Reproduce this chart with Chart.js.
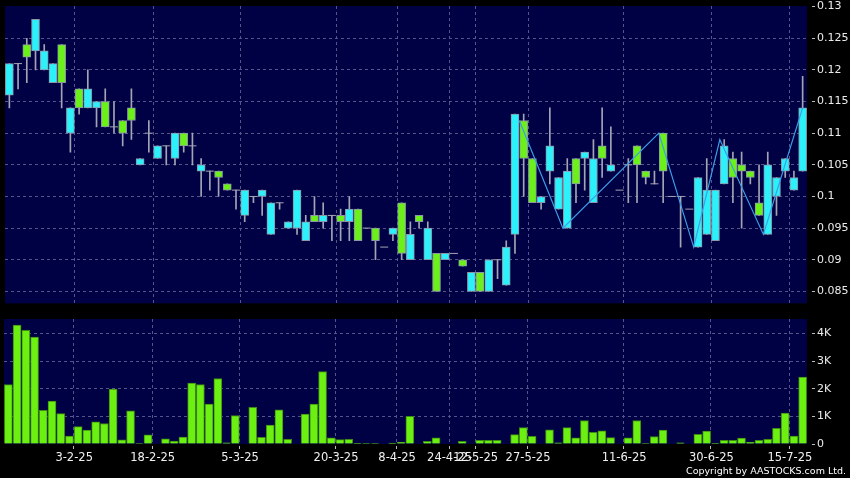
<!DOCTYPE html>
<html>
<head>
<meta charset="utf-8">
<script src="https://cdn.jsdelivr.net/npm/chart.js@4.4.1/dist/chart.umd.min.js"></script>
<style>
  html, body { margin: 0; padding: 0; background: #000; }
  body { width: 850px; height: 478px; position: relative; overflow: hidden; font-family: "DejaVu Sans", sans-serif; }
  #priceChart { position: absolute; left: 0; top: -20px; }
  #volumeChart { position: absolute; left: 0; top: 290px; }
  #copy { position: absolute; right: 4px; top: 465px; color: #fff; font-size: 9.5px; line-height: 11px; }
</style>
</head>
<body>
<canvas id="priceChart" width="850" height="332"></canvas>
<canvas id="volumeChart" width="850" height="188"></canvas>
<div id="copy">Copyright by AASTOCKS.com Ltd.</div>
<script>
// Daily candles, oldest first
const open = [
  0.116, 0.121, 0.124, 0.123, 0.120, 0.118, 0.124, 0.110, 0.117, 0.114,
  0.114, 0.115, 0.111, 0.112, 0.114, 0.105, 0.110, 0.106, 0.108, 0.106,
  0.110, 0.108, 0.104, 0.104, 0.104, 0.102, 0.101, 0.097, 0.100, 0.100,
  0.094, 0.099, 0.095, 0.095, 0.093, 0.097, 0.096, 0.097, 0.097, 0.096,
  0.098, 0.095, 0.095, 0.092, 0.094, 0.099, 0.090, 0.097, 0.090, 0.091,
  0.090, 0.091, 0.090, 0.085, 0.088, 0.085, 0.090, 0.086, 0.094, 0.112,
  0.106, 0.099, 0.104, 0.098, 0.095, 0.106, 0.106, 0.099, 0.108, 0.104,
  0.101, 0.105, 0.108, 0.104, 0.102, 0.110, 0.100, 0.100, 0.098, 0.092,
  0.094, 0.093, 0.102, 0.106, 0.105, 0.104, 0.099, 0.094, 0.100, 0.104,
  0.101, 0.104
];
const high = [
  0.121, 0.121, 0.125, 0.128, 0.124, 0.121, 0.124, 0.114, 0.117, 0.120,
  0.115, 0.117, 0.115, 0.112, 0.117, 0.106, 0.112, 0.108, 0.108, 0.110,
  0.110, 0.110, 0.106, 0.104, 0.104, 0.102, 0.101, 0.101, 0.100, 0.101,
  0.099, 0.099, 0.096, 0.101, 0.097, 0.100, 0.099, 0.097, 0.098, 0.100,
  0.098, 0.095, 0.095, 0.092, 0.095, 0.099, 0.096, 0.097, 0.096, 0.091,
  0.091, 0.091, 0.090, 0.088, 0.088, 0.090, 0.090, 0.093, 0.113, 0.113,
  0.106, 0.100, 0.114, 0.103, 0.106, 0.106, 0.107, 0.109, 0.114, 0.111,
  0.101, 0.106, 0.108, 0.104, 0.104, 0.110, 0.100, 0.100, 0.098, 0.103,
  0.106, 0.101, 0.109, 0.107, 0.107, 0.104, 0.105, 0.107, 0.103, 0.106,
  0.104, 0.119
];
const low = [
  0.114, 0.117, 0.118, 0.120, 0.120, 0.118, 0.114, 0.107, 0.113, 0.114,
  0.111, 0.111, 0.110, 0.108, 0.109, 0.105, 0.107, 0.106, 0.105, 0.105,
  0.107, 0.105, 0.100, 0.101, 0.100, 0.101, 0.098, 0.096, 0.099, 0.097,
  0.094, 0.098, 0.095, 0.094, 0.093, 0.096, 0.095, 0.093, 0.093, 0.093,
  0.093, 0.095, 0.090, 0.092, 0.093, 0.090, 0.090, 0.095, 0.090, 0.085,
  0.090, 0.091, 0.089, 0.085, 0.085, 0.085, 0.087, 0.086, 0.091, 0.100,
  0.099, 0.098, 0.102, 0.098, 0.095, 0.099, 0.101, 0.099, 0.103, 0.104,
  0.101, 0.099, 0.099, 0.102, 0.102, 0.099, 0.100, 0.092, 0.098, 0.092,
  0.094, 0.093, 0.102, 0.099, 0.095, 0.102, 0.097, 0.094, 0.097, 0.103,
  0.101, 0.104
];
const close = [
  0.121, 0.121, 0.122, 0.128, 0.123, 0.121, 0.118, 0.114, 0.114, 0.117,
  0.115, 0.111, 0.111, 0.110, 0.112, 0.106, 0.110, 0.108, 0.108, 0.110,
  0.108, 0.108, 0.105, 0.104, 0.103, 0.101, 0.101, 0.101, 0.100, 0.101,
  0.099, 0.099, 0.096, 0.101, 0.096, 0.096, 0.097, 0.097, 0.096, 0.098,
  0.093, 0.095, 0.093, 0.092, 0.095, 0.091, 0.094, 0.096, 0.095, 0.085,
  0.091, 0.091, 0.089, 0.088, 0.085, 0.090, 0.090, 0.092, 0.113, 0.106,
  0.099, 0.100, 0.108, 0.103, 0.104, 0.102, 0.107, 0.106, 0.106, 0.105,
  0.101, 0.105, 0.105, 0.103, 0.102, 0.104, 0.100, 0.100, 0.098, 0.103,
  0.101, 0.101, 0.108, 0.103, 0.104, 0.103, 0.097, 0.105, 0.103, 0.106,
  0.103, 0.114
];
const volume = [
  2150, 4300, 4110, 3870, 1220, 1550, 1100, 290, 630, 500,
  800, 740, 1990, 150, 1200, 20, 330, 0, 190, 110,
  250, 2200, 2150, 1440, 2370, 40, 1030, 0, 1330, 240,
  680, 1240, 170, 0, 1080, 1440, 2620, 220, 160, 170,
  10, 20, 20, 0, 30, 60, 1000, 0, 100, 220,
  0, 0, 100, 0, 130, 130, 130, 0, 340, 590,
  280, 0, 510, 40, 590, 220, 850, 420, 480, 230,
  0, 220, 850, 20, 270, 500, 0, 40, 0, 350,
  470, 10, 130, 130, 210, 60, 130, 170, 570, 1120,
  290, 2420
];
// Turning points of the trend line (x = candle slot)
const zigzag = [
  { x: 58.5, y: 0.112 }, { x: 63.5, y: 0.095 }, { x: 74.5, y: 0.110 },
  { x: 78.5, y: 0.092 }, { x: 81.5, y: 0.109 }, { x: 86.5, y: 0.094 },
  { x: 91, y: 0.114 }
];
// Date ticks: [candle slot, label]
const dateTicks = [
  [8, "3-2-25"], [17, "18-2-25"], [27, "5-3-25"], [38, "20-3-25"],
  [45, "8-4-25"], [51, "24-4-25"], [54, "12-5-25"], [60, "27-5-25"],
  [71, "11-6-25"], [81, "30-6-25"], [90, "15-7-25"]
];
const priceTicks = [0.085, 0.09, 0.095, 0.1, 0.105, 0.11, 0.115, 0.12, 0.125, 0.13];
const volumeTicks = [0, 1000, 2000, 3000, 4000];
const PRICE_MIN = 0.0831, PRICE_MAX = 0.1301;
const VOLUME_MAX = 4520;

const NAVY = "#000044";
const GRID = "#55558c";
const UP = "#2cf0fa";
const DOWN = "#6cf01a";
const WICK = "#a4a4b4";
const EDGE = "#8a96a8";
const VOL_GREEN = "#6cf012";
const VOL_EDGE = "#3f8a12";
const FONT = "DejaVu Sans";

const N = open.length;
const labels = new Array(N).fill("");
dateTicks.forEach(([i, t]) => { labels[i] = t; });

const bodies = open.map((o, i) => o === close[i] ? null : [Math.min(o, close[i]), Math.max(o, close[i])]);
const bodyColors = open.map((o, i) => close[i] > o ? UP : DOWN);
const wicks = low.map((l, i) => high[i] > l ? [l, high[i]] : null);
const dojis = open.map((o, i) => o === close[i] ? o : null);

// navy plot area behind everything
const plotBg = {
  id: "plotBg",
  beforeDraw(chart) {
    const { ctx, chartArea: a } = chart;
    ctx.save();
    ctx.fillStyle = NAVY;
    ctx.fillRect(a.left, a.top, a.right - a.left, a.bottom - a.top);
    ctx.restore();
  }
};

const dateGridColor = ctx => labels[ctx.index] ? GRID : "rgba(0,0,0,0)";
const dateTickColor = ctx => labels[ctx.index] ? "#bbbbbb" : "rgba(0,0,0,0)";

new Chart(document.getElementById("priceChart"), {
  type: "bar",
  data: {
    labels: labels,
    datasets: [
      {
        type: "line",
        data: zigzag,
        xAxisID: "xl",
        borderColor: "#3a9ee8",
        borderWidth: 1.2,
        pointRadius: 0,
        order: 0
      },
      {
        type: "line",
        data: dojis,
        showLine: false,
        pointStyle: "line",
        pointRadius: 4,
        pointBorderColor: WICK,
        pointBorderWidth: 1,
        order: 1
      },
      {
        data: bodies,
        grouped: false,
        barThickness: 8,
        backgroundColor: bodyColors,
        borderColor: EDGE,
        borderWidth: 1,
        borderSkipped: false,
        order: 2
      },
      {
        data: wicks,
        grouped: false,
        barThickness: 1,
        backgroundColor: WICK,
        borderWidth: 0,
        order: 3
      }
    ]
  },
  options: {
    responsive: false,
    animation: false,
    devicePixelRatio: 1,
    layout: { padding: { left: 4, top: 26, right: 0, bottom: 7 } },
    plugins: { legend: { display: false }, tooltip: { enabled: false } },
    scales: {
      x: {
        offset: true,
        afterFit: s => { s.height = 0; },
        grid: { offset: true, color: dateGridColor, drawTicks: false },
        border: { display: false, dash: [3, 3] },
        ticks: { display: false, autoSkip: false }
      },
      xl: {
        type: "linear",
        display: false,
        offset: false,
        bounds: "data",
        grid: { offset: false },
        min: -0.5,
        max: N - 0.5
      },
      y: {
        position: "right",
        min: PRICE_MIN,
        max: PRICE_MAX,
        afterBuildTicks: s => { s.ticks = priceTicks.map(v => ({ value: v })); },
        afterFit: s => { s.width = 43; },
        grid: {
          color: ctx => ctx.tick && ctx.tick.value > 0.1295 ? "rgba(0,0,0,0)" : GRID,
          tickLength: 8,
          tickColor: "#bbbbbb",
          tickBorderDash: [0, 5, 3]
        },
        border: { display: false, dash: [3, 3] },
        ticks: {
          color: "#ececec",
          padding: 2,
          font: { family: FONT, size: 11 },
          callback: v => String(+v.toFixed(3))
        }
      }
    }
  },
  plugins: [plotBg]
});

new Chart(document.getElementById("volumeChart"), {
  type: "bar",
  data: {
    labels: labels,
    datasets: [{
      data: volume,
      barThickness: 8,
      backgroundColor: VOL_GREEN,
      borderColor: VOL_EDGE,
      borderWidth: 1
    }]
  },
  options: {
    responsive: false,
    animation: false,
    devicePixelRatio: 1,
    layout: { padding: { left: 4, top: 29, right: 0, bottom: 0 } },
    plugins: { legend: { display: false }, tooltip: { enabled: false } },
    scales: {
      x: {
        offset: true,
        afterFit: s => { s.height = 34; },
        grid: {
          offset: true,
          color: dateGridColor,
          tickLength: 5,
          tickColor: dateTickColor,
          tickBorderDash: [0, 2, 3]
        },
        border: { display: false, dash: [3, 3] },
        ticks: {
          autoSkip: false,
          maxRotation: 0,
          minRotation: 0,
          padding: 2,
          labelOffset: -4,
          color: "#f0f0f0",
          font: { family: FONT, size: 11.5 },
          callback: (v, i) => labels[i]
        }
      },
      y: {
        position: "right",
        min: 0,
        max: VOLUME_MAX,
        afterBuildTicks: s => { s.ticks = volumeTicks.map(v => ({ value: v })); },
        afterFit: s => { s.width = 43; },
        grid: {
          color: ctx => ctx.tick && ctx.tick.value === 0 ? "rgba(0,0,0,0)" : GRID,
          tickLength: 8,
          tickColor: "#bbbbbb",
          tickBorderDash: [0, 5, 3]
        },
        border: { display: false, dash: [3, 3] },
        ticks: {
          color: "#ececec",
          padding: 2,
          font: { family: FONT, size: 11 },
          callback: v => v === 0 ? "0" : (v / 1000) + "K"
        }
      }
    }
  },
  plugins: [plotBg]
});
</script>
</body>
</html>
